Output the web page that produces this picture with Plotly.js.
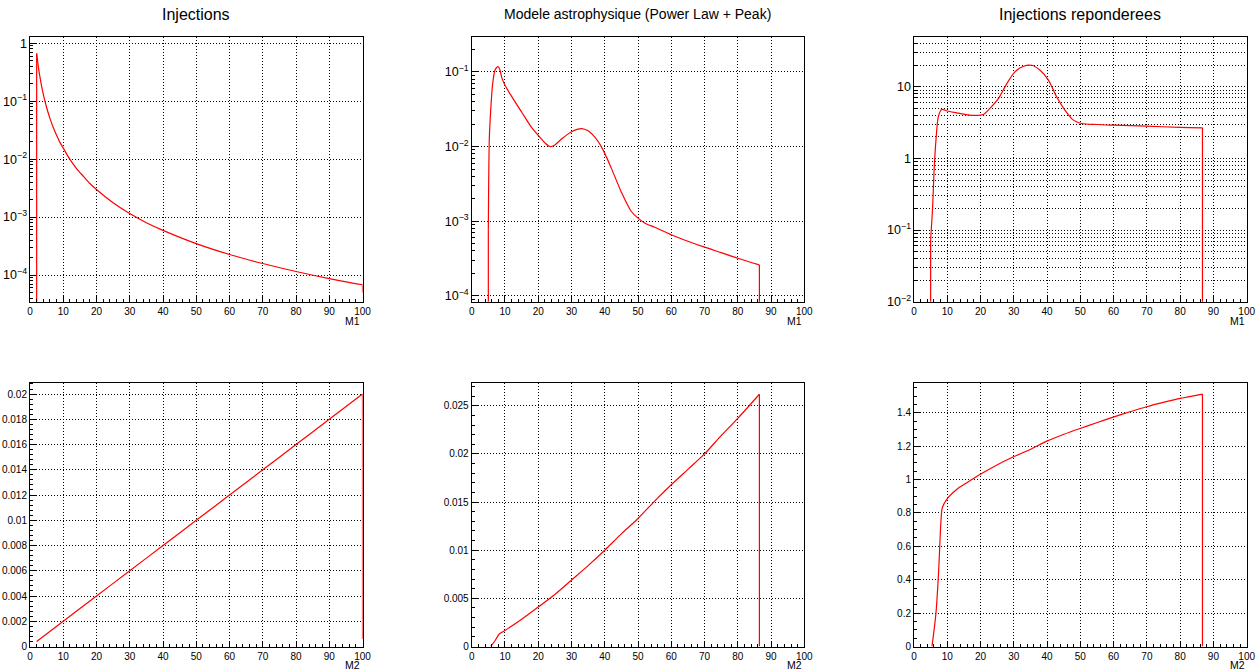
<!DOCTYPE html>
<html>
<head>
<meta charset="utf-8">
<script src="https://cdn.plot.ly/plotly-3.0.1.min.js"></script>
<style>html,body{margin:0;padding:0;background:#fff;}#chart{width:1260px;height:671px;}</style>
</head>
<body>
<div id="chart"></div>
<script>
// ---- Panel titles ----
const panelTitles = ["Injections", "Modele astrophysique (Power Law + Peak)", "Injections reponderees"];
const axisNames = ["M1", "M2"];

// ---- Top-left: Injections vs M1 (log y) ----
const injM1X = [2, 2, 2.5, 3, 3.5, 4, 5, 6, 7, 8, 9, 10, 12, 14, 16, 18, 20, 25, 30, 35, 40, 50, 60, 70, 80, 90, 100, 100];
const injM1Y = [1e-6, 0.67, 0.40, 0.26, 0.18, 0.131, 0.078, 0.0507, 0.0353, 0.0258, 0.0195, 0.0155, 0.0099, 0.0069, 0.0051, 0.0038, 0.0030, 0.00177, 0.00115, 0.0008, 0.00059, 0.000348, 0.000226, 0.000158, 0.000115, 0.000087, 0.000068, 0.00005];

// ---- Top-middle: astrophysical model vs M1 (log y) ----
const astroM1X = [5, 5, 5.3, 5.7, 6.3, 7, 7.5, 8, 8.5, 9, 10, 12, 15, 18, 20, 22, 23.5, 25, 27, 30, 33, 35, 38, 40, 42, 45, 48, 50, 52, 55, 60, 65, 70, 75, 80, 86.5, 86.5];
const astroM1Y = [1e-6, 7.8e-4, 0.0129, 0.030, 0.069, 0.105, 0.114, 0.117, 0.106, 0.085, 0.066, 0.047, 0.029, 0.018, 0.0141, 0.0112, 0.0100, 0.0105, 0.0126, 0.0158, 0.0174, 0.0162, 0.0117, 0.0081, 0.0051, 0.00245, 0.00135, 0.0011, 0.00095, 0.00083, 0.00066, 0.00054, 0.00045, 0.00038, 0.00032, 0.00026, 1e-6];

// ---- Top-right: reweighted injections vs M1 (log y) ----
const rewM1X = [5, 5, 5.6, 6.0, 6.6, 7.3, 8.3, 10, 12.8, 15, 17.8, 20.8, 22.8, 25.4, 27.9, 30.4, 32.9, 35.4, 37.9, 40.4, 42.9, 45.4, 47.9, 50.4, 54.9, 59.9, 69.9, 80, 86.7, 86.7];
const rewM1Y = [1e-6, 0.074, 0.21, 0.62, 1.8, 3.8, 4.83, 4.6, 4.34, 4.15, 4.0, 4.1, 5.0, 6.9, 11.1, 16.3, 19.4, 20, 17, 12.4, 7.2, 4.7, 3.43, 3.08, 2.98, 2.92, 2.83, 2.71, 2.68, 1e-6];

// ---- Bottom-left: Injections vs M2 ----
const injM2X = [2, 10, 20, 30, 40, 50, 60, 70, 80, 90, 100, 100];
const injM2Y = [0.0004, 0.002, 0.004, 0.006, 0.008, 0.010, 0.012, 0.014, 0.016, 0.018, 0.020, 0.0006];

// ---- Bottom-middle: astrophysical model vs M2 ----
const astroM2X = [5.7, 7.0, 8.3, 10, 14.5, 20, 25, 30, 35, 40, 45, 50, 55, 60, 65, 70, 75, 80, 86.5, 86.5];
const astroM2Y = [0, 0.0006, 0.0013, 0.00167, 0.0027, 0.0041, 0.0054, 0.0069, 0.0084, 0.0100, 0.0117, 0.0133, 0.0151, 0.0168, 0.0184, 0.0200, 0.0219, 0.0237, 0.0262, 0];

// ---- Bottom-right: reweighted injections vs M2 ----
const rewM2X = [5.4, 6.6, 7.4, 8.1, 8.5, 9.8, 12.8, 15.8, 19.8, 24.8, 29.9, 34.9, 39.9, 44.9, 49.9, 54.9, 59.9, 64.9, 69.9, 74.9, 80, 86.7, 86.7];
const rewM2Y = [0, 0.2, 0.45, 0.75, 0.83, 0.88, 0.94, 0.98, 1.03, 1.086, 1.136, 1.18, 1.23, 1.27, 1.306, 1.34, 1.374, 1.406, 1.436, 1.462, 1.486, 1.512, 0];

const FONT = "Liberation Sans, Arial, Helvetica, sans-serif";
const RED = "#ff0000";
const GRIDDASH = "1px,2px";
const TICKSIZE = 10;

function axId(i) { return i === 1 ? "" : String(i); }
function seg(x, y, i, shape) {
  return {x: x, y: y, type: "scatter", mode: "lines", xaxis: "x" + axId(i), yaxis: "y" + axId(i),
    line: {color: RED, width: 1.2, shape: shape, smoothing: 0.8}, hoverinfo: "skip", showlegend: false};
}
// split a histogram-like outline into vertical edges (linear) and a smooth body (spline)
function traces(x, y, i, dropStart, dropEnd) {
  const n = x.length;
  const a = dropStart ? 1 : 0, b = dropEnd ? n - 1 : n;
  const out = [seg(x.slice(a, b), y.slice(a, b), i, "spline")];
  if (dropStart) out.push(seg(x.slice(0, 2), y.slice(0, 2), i, "linear"));
  if (dropEnd) out.push(seg(x.slice(n - 2), y.slice(n - 2), i, "linear"));
  return out;
}

const data = [].concat(
  traces(injM1X, injM1Y, 1, true, true),
  traces(astroM1X, astroM1Y, 2, true, true),
  traces(rewM1X, rewM1Y, 3, true, true),
  traces(injM2X, injM2Y, 4, false, true),
  traces(astroM2X, astroM2Y, 5, false, true),
  traces(rewM2X, rewM2Y, 6, false, true)
);

const W = 1260, H = 671;
const colX = [[30, 362.5], [471.7, 804.3], [914, 1246.7]];
const rowY = [[36.7, 301.7], [382.7, 646.5]];

function xax(c, r) {
  return {
    domain: [colX[c][0] / W, colX[c][1] / W], anchor: "y" + axId(r * 3 + c + 1),
    range: [0, 100], dtick: 10, tick0: 0, ticks: "inside", ticklen: 6, tickcolor: "#000",
    minor: {dtick: 2, ticks: "inside", ticklen: 3, tickcolor: "#000", showgrid: false},
    showgrid: true, gridcolor: "#000", griddash: GRIDDASH, gridwidth: 1,
    showline: true, linecolor: "#000", linewidth: 1, mirror: true, zeroline: false,
    tickfont: {family: FONT, size: TICKSIZE, color: "#000"}, fixedrange: true
  };
}
function yax(c, r, extra) {
  const base = {
    domain: [1 - rowY[r][1] / H, 1 - rowY[r][0] / H], anchor: "x" + axId(r * 3 + c + 1),
    ticks: "inside", ticklen: 6, tickcolor: "#000",
    showgrid: true, gridcolor: "#000", griddash: GRIDDASH, gridwidth: 1,
    showline: true, linecolor: "#000", linewidth: 1, mirror: true, zeroline: false,
    tickfont: {family: FONT, size: TICKSIZE, color: "#000"}, fixedrange: true
  };
  return Object.assign(base, extra);
}
const minorTicks = {ticks: "inside", ticklen: 3, tickcolor: "#000", showgrid: false};

const layout = {
  width: W, height: H, margin: {l: 0, r: 0, t: 0, b: 0},
  paper_bgcolor: "#fff", plot_bgcolor: "#fff", showlegend: false,
  font: {family: FONT, color: "#000"},
  xaxis: xax(0, 0), xaxis2: xax(1, 0), xaxis3: xax(2, 0),
  xaxis4: xax(0, 1), xaxis5: xax(1, 1), xaxis6: xax(2, 1),
  yaxis: yax(0, 0, {type: "log", range: [-4.46, 0.114], dtick: 1, exponentformat: "power",
    minor: Object.assign({dtick: "D1"}, minorTicks)}),
  yaxis2: yax(1, 0, {type: "log", range: [-4.077, -0.53], dtick: 1, exponentformat: "power",
    minor: Object.assign({dtick: "D1"}, minorTicks)}),
  yaxis3: yax(2, 0, {type: "log", range: [-2, 1.70], dtick: 1, exponentformat: "power",
    minor: {dtick: "D1", ticks: "inside", ticklen: 3, tickcolor: "#000", showgrid: true, gridcolor: "#000", griddash: GRIDDASH, gridwidth: 1}}),
  yaxis4: yax(0, 1, {range: [0, 0.0209], dtick: 0.002, minor: Object.assign({dtick: 0.0004}, minorTicks)}),
  yaxis5: yax(1, 1, {range: [0, 0.0274], dtick: 0.005, minor: Object.assign({dtick: 0.001}, minorTicks)}),
  yaxis6: yax(2, 1, {range: [0, 1.58], dtick: 0.2, minor: Object.assign({dtick: 0.05}, minorTicks)}),
  annotations: []
};

const titleCenters = [196, 637, 1080];
const titleSizes = [16, 14, 16];
for (let c = 0; c < 3; c++) {
  layout.annotations.push({text: panelTitles[c], xref: "paper", yref: "paper", x: titleCenters[c] / W, y: 1 - 14 / H,
    xanchor: "center", yanchor: "middle", showarrow: false, font: {family: FONT, size: titleSizes[c], color: "#000"}});
  for (let r = 0; r < 2; r++) {
    layout.annotations.push({text: axisNames[r], xref: "paper", yref: "paper", x: colX[c][1] / W, y: 1 - (r === 0 ? 321 : 664.5) / H,
      xanchor: "right", yanchor: "middle", showarrow: false, font: {family: FONT, size: 10.5, color: "#000"}});
  }
}

Plotly.newPlot("chart", data, layout, {staticPlot: true, displayModeBar: false});
</script>
</body>
</html>
